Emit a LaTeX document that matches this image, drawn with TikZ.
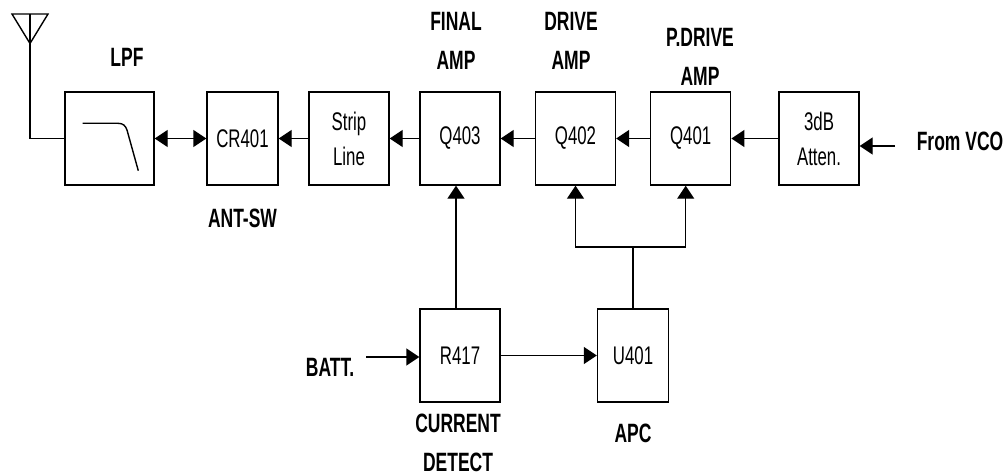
\documentclass[tikz,border=0pt]{standalone}
\usepackage{fontspec}
\setmainfont[FakeStretch=0.66]{Liberation Sans}
\usetikzlibrary{arrows.meta}
\begin{document}
\begin{tikzpicture}[x=1pt,y=-1pt,line width=1.4pt,
  blk/.style={draw, line width=1.4pt, minimum height=93pt, inner sep=0pt, align=center, font=\fontsize{25.5}{35}\selectfont},
  lbl/.style={inner sep=0pt, align=center, font=\fontsize{26.5}{39}\selectfont\bfseries},
  arr/.style={-{Triangle[length=13pt,width=17pt]}},
  darr/.style={{Triangle[length=13pt,width=17pt]}-{Triangle[length=13pt,width=17pt]}}]
\useasboundingbox (0,0) rectangle (1006,476);
% blocks
\node[blk, minimum width=89pt] (lpf) at (109.5,138.5) {};
\node[blk, minimum width=71pt] (cr) at (242.5,138.5) {CR401};
\node[blk, minimum width=80pt] (strip) at (349,138.5) {Strip\\Line};
\node[blk, minimum width=80pt] (qf) at (460,138.5) {Q403};
\node[blk, minimum width=80pt] (qd) at (575.5,138.5) {Q402};
\node[blk, minimum width=80pt] (qp) at (690.7,138.5) {Q401};
\node[blk, minimum width=80pt] (att) at (819,138.5) {3dB\\Atten.};
\node[blk, minimum width=80pt] (r417) at (460,355.5) {R417};
\node[blk, minimum width=71pt] (u401) at (633,355.5) {U401};
% LPF symbol
\draw (82.7,123.3) -- (118,123.3) .. controls (123.5,123.3) and (125.5,126) .. (127,130) -- (138.3,170.7);
% labels
\node[lbl] (lpfl) at (127,57) {LPF};
\node[lbl] (antsw) at (242.5,218) {ANT-SW};
\node[lbl] (finl) at (456,40.5) {FINAL\\AMP};
\node[lbl] (drvl) at (571,41) {DRIVE\\AMP};
\node[lbl] (pdl) at (700,56.5) {P.DRIVE\\AMP};
\node[lbl] (vcol) at (960,141.5) {From VCO};
\node[lbl] (battl) at (330,367.5) {BATT.};
\node[lbl] (curl) at (458,442.5) {CURRENT\\DETECT};
\node[lbl] (apcl) at (633,433) {APC};
% antenna
\coordinate (ant) at (30,14);
\draw (12,14) -- (48,14) -- (30,43.5) -- cycle;
\draw (ant) |- (lpf.west);
% signal chain
\draw[darr] (lpf) -- (cr);
\draw[arr] (strip) -- (cr);
\draw[arr] (qf) -- (strip);
\draw[arr] (qd) -- (qf);
\draw[arr] (qp) -- (qd);
\draw[arr] (att) -- (qp);
\coordinate (vco) at (895,146);
\draw[arr] (vco) -- (att.east |- vco);
% control
\draw[arr] ([xshift=-4pt]r417.north) -- ([xshift=-4pt]qf.south);
\coordinate (batt) at (366,357);
\draw[arr] (batt) -- (r417.west |- batt);
\draw[arr] (r417) -- (u401);
\coordinate (j) at (633,247);
\draw (u401.north) -- (j);
\draw[arr] (j) -| (qd.south);
\draw[arr] (j) -| ([xshift=-5pt]qp.south);
\end{tikzpicture}
\end{document}
